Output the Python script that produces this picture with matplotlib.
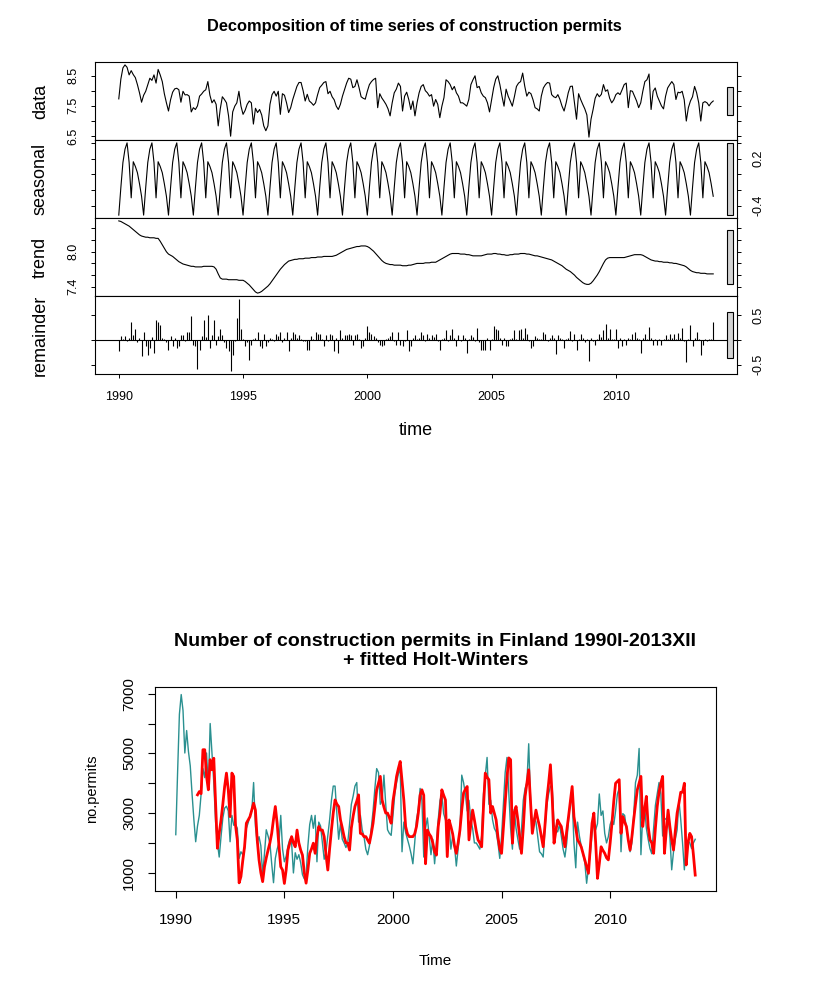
import numpy as np
import matplotlib
matplotlib.use("Agg")
import matplotlib.pyplot as plt
from matplotlib.patches import Rectangle

plt.rcParams['font.family'] = ['Liberation Sans', 'DejaVu Sans']

# ---------------- data (monthly, Jan 1990 - Dec 2013) ----------------
start_year = 1990
n_years = 24

# log(number of permits), one row per year
data_log = [
    [7.73, 8.38, 8.75, 8.85, 8.77, 8.52, 8.66, 8.53, 8.43, 8.20, 7.93, 7.62],
    [7.85, 7.98, 8.20, 8.41, 8.34, 8.52, 8.25, 8.70, 8.52, 8.30, 7.90, 7.60],
    [7.33, 7.70, 7.95, 8.06, 8.08, 8.03, 7.62, 7.98, 7.86, 7.87, 7.82, 7.30],
    [7.44, 7.38, 7.50, 7.82, 7.89, 7.98, 8.03, 8.30, 7.85, 7.60, 7.70, 7.55],
    [6.84, 7.40, 7.80, 7.71, 7.60, 7.17, 6.50, 7.30, 7.49, 7.60, 7.98, 7.49],
    [7.22, 7.35, 7.55, 7.66, 7.60, 6.90, 7.42, 7.28, 7.38, 7.20, 6.84, 6.68],
    [6.84, 7.55, 7.87, 7.98, 7.82, 7.98, 7.22, 7.90, 7.85, 7.60, 7.28, 7.44],
    [7.71, 7.93, 8.14, 8.27, 8.27, 8.00, 7.66, 7.88, 7.66, 7.60, 7.52, 7.60],
    [7.87, 8.10, 8.18, 8.27, 8.30, 7.90, 7.98, 7.80, 7.70, 7.49, 7.38, 7.55],
    [7.82, 8.03, 8.25, 8.41, 8.38, 8.10, 8.14, 8.36, 8.10, 7.80, 7.75, 7.72],
    [7.98, 8.20, 8.30, 8.37, 8.41, 7.44, 7.90, 7.76, 7.66, 7.55, 7.40, 7.17],
    [7.60, 7.93, 8.05, 8.25, 8.14, 7.33, 7.82, 7.95, 7.71, 7.38, 7.66, 7.17],
    [7.60, 7.93, 8.14, 8.20, 8.00, 7.93, 7.82, 7.87, 7.49, 7.71, 7.55, 7.11],
    [7.49, 7.77, 8.36, 8.30, 8.20, 8.03, 8.14, 7.93, 7.82, 7.60, 7.60, 7.55],
    [7.49, 7.71, 8.20, 8.36, 8.49, 8.10, 8.14, 7.93, 7.82, 7.77, 7.60, 7.30],
    [7.70, 8.10, 8.38, 8.49, 8.20, 7.82, 7.49, 8.05, 7.82, 7.66, 7.49, 7.80],
    [8.14, 8.25, 8.30, 8.58, 8.15, 7.82, 7.95, 7.90, 7.70, 7.44, 7.40, 7.33],
    [7.82, 8.09, 8.20, 8.27, 8.25, 7.87, 7.80, 7.77, 7.87, 7.71, 7.49, 7.33],
    [7.60, 7.93, 8.14, 8.15, 7.60, 7.06, 7.90, 7.71, 7.55, 7.40, 7.20, 6.47],
    [7.06, 7.38, 7.75, 7.90, 7.80, 7.88, 8.20, 7.98, 8.03, 7.75, 7.60, 7.70],
    [7.87, 7.93, 7.87, 8.03, 8.20, 8.25, 7.44, 8.00, 7.98, 7.82, 7.66, 7.44],
    [7.60, 7.98, 8.30, 8.36, 8.55, 7.38, 7.98, 8.09, 7.82, 7.66, 7.50, 7.40],
    [7.82, 8.09, 8.20, 8.30, 8.20, 7.71, 7.95, 7.93, 7.98, 7.70, 7.00, 7.44],
    [7.66, 7.80, 8.14, 7.93, 7.60, 7.00, 7.60, 7.64, 7.60, 7.50, 7.60, 7.66],
]

# periodic seasonal component (Jan..Dec)
seasonal_pattern = [-0.52, -0.17, 0.15, 0.32, 0.40, 0.15,
                    -0.30, 0.16, 0.10, 0.02, -0.12, -0.28]

trend = [
    [8.53, 8.52, 8.50, 8.48, 8.46, 8.44, 8.41, 8.38, 8.35, 8.32, 8.29, 8.27],
    [8.26, 8.25, 8.25, 8.24, 8.24, 8.24, 8.23, 8.23, 8.18, 8.12, 8.06, 8.00],
    [7.96, 7.94, 7.92, 7.89, 7.86, 7.83, 7.81, 7.79, 7.78, 7.77, 7.76, 7.75],
    [7.75, 7.74, 7.74, 7.74, 7.74, 7.75, 7.75, 7.75, 7.75, 7.75, 7.74, 7.70],
    [7.62, 7.55, 7.53, 7.53, 7.53, 7.52, 7.52, 7.52, 7.52, 7.52, 7.51, 7.51],
    [7.51, 7.49, 7.46, 7.43, 7.39, 7.35, 7.31, 7.29, 7.30, 7.32, 7.35, 7.38],
    [7.41, 7.45, 7.50, 7.55, 7.60, 7.65, 7.70, 7.74, 7.78, 7.81, 7.84, 7.85],
    [7.86, 7.87, 7.87, 7.88, 7.88, 7.88, 7.89, 7.89, 7.89, 7.90, 7.90, 7.90],
    [7.91, 7.91, 7.91, 7.92, 7.92, 7.92, 7.92, 7.92, 7.93, 7.94, 7.96, 7.98],
    [8.00, 8.02, 8.04, 8.05, 8.06, 8.07, 8.08, 8.09, 8.09, 8.10, 8.10, 8.10],
    [8.09, 8.07, 8.04, 8.01, 7.97, 7.93, 7.89, 7.85, 7.82, 7.80, 7.79, 7.78],
    [7.78, 7.77, 7.77, 7.77, 7.77, 7.76, 7.76, 7.76, 7.77, 7.77, 7.78, 7.79],
    [7.80, 7.80, 7.80, 7.80, 7.81, 7.81, 7.81, 7.82, 7.82, 7.82, 7.84, 7.86],
    [7.88, 7.90, 7.92, 7.94, 7.96, 7.97, 7.97, 7.97, 7.97, 7.96, 7.96, 7.96],
    [7.95, 7.95, 7.94, 7.93, 7.93, 7.93, 7.93, 7.93, 7.94, 7.95, 7.96, 7.96],
    [7.96, 7.97, 7.97, 7.96, 7.96, 7.95, 7.95, 7.94, 7.94, 7.95, 7.95, 7.96],
    [7.96, 7.96, 7.97, 7.97, 7.97, 7.96, 7.96, 7.95, 7.94, 7.93, 7.93, 7.92],
    [7.91, 7.90, 7.89, 7.88, 7.87, 7.86, 7.84, 7.82, 7.80, 7.78, 7.76, 7.73],
    [7.70, 7.68, 7.66, 7.63, 7.60, 7.56, 7.53, 7.50, 7.47, 7.45, 7.44, 7.44],
    [7.46, 7.50, 7.55, 7.60, 7.66, 7.73, 7.80, 7.86, 7.89, 7.90, 7.90, 7.90],
    [7.90, 7.90, 7.90, 7.90, 7.90, 7.91, 7.92, 7.93, 7.94, 7.95, 7.95, 7.95],
    [7.95, 7.94, 7.92, 7.90, 7.88, 7.86, 7.85, 7.84, 7.84, 7.83, 7.83, 7.82],
    [7.82, 7.82, 7.81, 7.81, 7.80, 7.80, 7.79, 7.78, 7.77, 7.76, 7.74, 7.71],
    [7.68, 7.66, 7.65, 7.64, 7.64, 7.63, 7.63, 7.63, 7.62, 7.62, 7.62, 7.62],
]

remainder = [
    [-0.23, 0.07, 0.02, 0.07, -0.03, 0.04, 0.37, 0.10, 0.23, -0.05, 0.03, -0.33],
    [0.17, -0.13, -0.30, -0.17, 0.05, -0.27, 0.40, 0.37, 0.30, 0.03, 0.02, -0.04],
    [-0.20, 0.07, -0.13, 0.03, -0.17, -0.13, 0.10, 0.10, -0.03, 0.17, 0.17, 0.48],
    [-0.10, -0.13, -0.58, -0.20, 0.07, 0.40, 0.05, 0.50, -0.17, 0.10, 0.40, -0.10],
    [0.07, 0.23, 0.10, -0.05, -0.17, -0.23, -0.63, -0.30, -0.02, 0.45, 0.83, 0.23],
    [0.02, -0.13, -0.05, -0.40, -0.10, 0.02, 0.03, 0.17, -0.13, -0.17, 0.13, -0.13],
    [-0.04, 0.03, 0.02, -0.03, 0.13, 0.07, 0.17, -0.05, 0.03, 0.17, -0.23, 0.03],
    [0.17, 0.13, 0.04, 0.10, 0.02, -0.03, -0.02, -0.20, -0.20, 0.07, 0.02, 0.17],
    [0.13, 0.13, 0.02, -0.13, 0.10, -0.02, 0.13, 0.10, -0.23, 0.03, -0.27, 0.20],
    [0.03, 0.10, 0.10, 0.13, 0.10, -0.10, 0.10, 0.13, 0.02, -0.17, -0.13, 0.03],
    [0.28, 0.17, 0.13, 0.07, 0.03, -0.04, -0.10, -0.13, -0.10, 0.02, 0.03, 0.07],
    [0.17, -0.03, -0.10, 0.17, -0.10, -0.13, -0.03, 0.20, -0.23, -0.13, 0.03, 0.10],
    [0.02, 0.03, 0.17, 0.10, -0.02, 0.13, 0.03, 0.10, 0.05, 0.13, -0.03, -0.20],
    [0.02, 0.03, 0.20, -0.03, 0.10, 0.23, 0.03, -0.13, 0.10, -0.02, 0.10, 0.03],
    [-0.27, 0.02, 0.10, 0.05, -0.03, 0.25, -0.05, -0.20, -0.20, -0.20, 0.03, -0.20],
    [0.02, 0.28, 0.23, 0.20, 0.03, -0.10, 0.03, -0.13, -0.13, 0.02, 0.03, 0.20],
    [0.02, 0.20, 0.23, 0.03, 0.25, 0.13, -0.03, -0.17, -0.13, 0.07, 0.03, 0.02],
    [0.02, 0.17, 0.13, -0.02, 0.03, 0.10, 0.03, -0.28, 0.10, 0.03, 0.02, -0.17],
    [0.02, 0.03, 0.18, -0.03, 0.13, -0.20, 0.02, 0.13, 0.03, -0.05, 0.02, -0.43],
    [0.03, -0.03, -0.10, 0.02, 0.13, 0.05, 0.20, 0.33, 0.03, 0.23, 0.02, 0.02],
    [0.23, -0.17, 0.03, -0.13, 0.02, -0.10, 0.03, 0.02, 0.13, 0.17, 0.03, 0.02],
    [-0.27, 0.03, 0.13, 0.02, 0.27, 0.03, -0.10, 0.02, -0.10, 0.02, -0.10, 0.02],
    [0.10, 0.02, 0.13, 0.03, 0.13, 0.02, 0.15, 0.03, 0.25, -0.03, -0.45, 0.02],
    [0.30, -0.13, 0.03, 0.17, 0.02, -0.30, -0.10, 0.02, -0.03, 0.02, 0.02, 0.37],
]

# Holt-Winters fitted values, Jan 1991 - Dec 2013
hw_start_year = 1991
hw_fitted = [
    [3612, 3720, 3650, 5125, 5125, 4230, 3780, 4790, 4450, 4840, 3300, 1820],
    [2320, 2770, 3300, 3890, 4340, 3780, 2880, 4340, 4230, 2600, 2100, 660],
    [870, 1400, 1870, 2660, 2770, 2880, 3100, 3330, 3100, 2100, 1430, 1000],
    [700, 1200, 1500, 1760, 2000, 2320, 2800, 3220, 2660, 1900, 1200, 1090],
    [640, 1100, 1760, 2000, 2210, 2000, 1870, 2430, 2000, 1760, 1590, 1000],
    [650, 1100, 1650, 1800, 1990, 1650, 2200, 2550, 2430, 2430, 2210, 1600],
    [1090, 1800, 2430, 3000, 3440, 3300, 3220, 2770, 2500, 2210, 2000, 1990],
    [1760, 2500, 2900, 3220, 3400, 3610, 2320, 2300, 2210, 2210, 2100, 1990],
    [2300, 2660, 3200, 3780, 4000, 4230, 3440, 3200, 3000, 3000, 2850, 2660],
    [3400, 3800, 4230, 4500, 4730, 4100, 3440, 2550, 2300, 2210, 2210, 2210],
    [2300, 2550, 3000, 3600, 3780, 3600, 1300, 2430, 2300, 2210, 2000, 1700],
    [1590, 2550, 3000, 3780, 3600, 3440, 1540, 2770, 2550, 2300, 1900, 1650],
    [2000, 2430, 3100, 3670, 3800, 3890, 2100, 2600, 3100, 2770, 2400, 2100],
    [2000, 1870, 3200, 4340, 4200, 4120, 3000, 3220, 3000, 2770, 2200, 1800],
    [1650, 2500, 3330, 4200, 4850, 4790, 1990, 3000, 3220, 2770, 2200, 1650],
    [2500, 3560, 4000, 4450, 3400, 2320, 2700, 3100, 2800, 2550, 2200, 1870],
    [2600, 3440, 4000, 4620, 3500, 1990, 2400, 2770, 2650, 2550, 2200, 1870],
    [2400, 2880, 3400, 3890, 2880, 2500, 2100, 2000, 1870, 1650, 1430, 1200],
    [980, 1800, 2660, 3000, 2000, 810, 1300, 1870, 1750, 1650, 1500, 1430],
    [2000, 2660, 3400, 4000, 4060, 4120, 2320, 2880, 2700, 2550, 2100, 1760],
    [2200, 2770, 3300, 3780, 4000, 4230, 2550, 3100, 3560, 2550, 2100, 2000],
    [1650, 2500, 3220, 3700, 4000, 4230, 1650, 2400, 3100, 2550, 2100, 1760],
    [2400, 3000, 3330, 3700, 3700, 4000, 1260, 2000, 2320, 2210, 1600, 920],
]

year_ticks = [1990, 1995, 2000, 2005, 2010]
panel_names = ["data", "seasonal", "trend", "remainder"]

# ---------------- build series ----------------
d_log = np.array(data_log, dtype=float).ravel()
s_comp = np.tile(np.array(seasonal_pattern), n_years)
t_comp = np.array(trend, dtype=float).ravel()
r_comp = np.array(remainder, dtype=float).ravel()
t = start_year + np.arange(d_log.size) / 12.0
hw = np.array(hw_fitted, dtype=float).ravel()
t_hw = hw_start_year + np.arange(hw.size) / 12.0
permits = np.exp(d_log)

W, H = 832, 991
fig = plt.figure(figsize=(W / 100, H / 100), dpi=100)


def add_ax(l, tp, r, b):
    return fig.add_axes([l / W, 1 - b / H, (r - l) / W, (b - tp) / H])


def rlim(v):
    lo, hi = np.min(v), np.max(v)
    p = 0.04 * (hi - lo)
    return lo - p, hi + p


xlo, xhi = rlim(t)
series = [d_log, s_comp, t_comp, r_comp]
mx = min(np.ptp(s) for s in series)

bounds = [62, 140, 218, 296, 374]
yticks = [
    ([6.5, 7.0, 7.5, 8.0, 8.5], ["6.5", "", "7.5", "", "8.5"]),
    ([-0.4, -0.2, 0.0, 0.2, 0.4], ["-0.4", "", "", "0.2", ""]),
    ([7.4, 7.6, 7.8, 8.0, 8.2, 8.4], ["7.4", "", "", "8.0", "", ""]),
    ([-0.5, 0.0, 0.5], ["-0.5", "", "0.5"]),
]

for i, s in enumerate(series):
    ax = add_ax(95, bounds[i], 737, bounds[i + 1])
    if i < 3:
        ax.plot(t, s, color="black", lw=0.8)
    else:
        ax.vlines(t, 0, s, color="black", lw=0.8)
        ax.axhline(0, color="black", lw=0.8)
    ax.set_xlim(xlo, xhi)
    ylo, yhi = rlim(s)
    ax.set_ylim(ylo, yhi)
    dx = (xhi - xlo) / 64
    ymid = (np.min(s) + np.max(s)) / 2
    ax.add_patch(Rectangle((xhi - dx, ymid - mx / 2), 0.6 * dx, mx,
                           facecolor="#D3D3D3", edgecolor="black", lw=0.8,
                           clip_on=False, zorder=5))
    right = (i % 2 == 1)
    ax.set_yticks(yticks[i][0])
    ax.set_yticklabels(yticks[i][1])
    ax.set_xticks(year_ticks)
    ax.tick_params(axis="both", direction="out", length=3, width=0.7,
                   labelsize=9, left=True, right=True,
                   labelleft=not right, labelright=right,
                   bottom=True, labelbottom=(i == 3))
    ax.tick_params(axis="y", labelrotation=90, pad=8)
    ax.tick_params(axis="x", pad=9)
    for lab in ax.get_yticklabels():
        lab.set_verticalalignment("center")
    for sp in ax.spines.values():
        sp.set_linewidth(0.8)
    ax.text(-0.085, 0.5, panel_names[i], transform=ax.transAxes,
            rotation=90, ha="center", va="center", fontsize=13)
    if i == 3:
        ax.set_xlabel("time", fontsize=13, labelpad=14)

fig.text(414 / W, 1 - 27 / H, "Decomposition of time series of construction permits",
         ha="center", va="center", fontsize=11.8, fontweight="bold")

# ---------------- Holt-Winters plot ----------------
ax2 = add_ax(155, 687, 716, 891)
ax2.plot(t, permits, color="#2A9090", lw=1.0)
ax2.plot(t_hw, hw, color="#FF0000", lw=2.0)
ax2.set_xlim(xlo, xhi)
ax2.set_ylim(*rlim(np.concatenate([permits, hw])))
ax2.set_xticks(year_ticks)
ax2.set_yticks([1000, 2000, 3000, 4000, 5000, 6000, 7000])
ax2.set_yticklabels(["1000", "", "3000", "", "5000", "", "7000"])
ax2.tick_params(axis="both", direction="out", length=5, width=0.8, labelsize=11)
ax2.tick_params(axis="y", labelrotation=90, pad=8.5)
ax2.tick_params(axis="x", pad=11)
for lab in ax2.get_yticklabels():
    lab.set_verticalalignment("center")
for sp in ax2.spines.values():
    sp.set_linewidth(0.8)
ax2.set_xlabel("Time", fontsize=11, labelpad=19)
ax2.set_ylabel("no.permits", fontsize=10.5, labelpad=17)
ax2.set_title("Number of construction permits in Finland 1990I-2013XII\n+ fitted Holt-Winters",
              fontsize=14, fontweight="bold", pad=16, linespacing=1.1)

fig.savefig("out.png", dpi=100)
